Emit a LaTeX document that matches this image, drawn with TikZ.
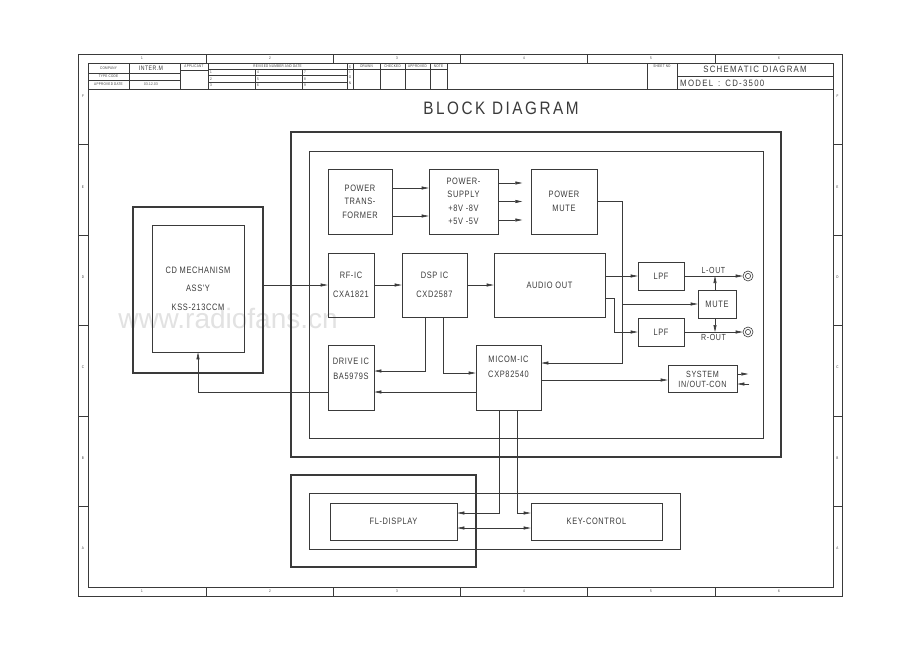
\documentclass[tikz,border=0pt]{standalone}
\usepackage{fontspec}
\setmainfont{Liberation Sans}
\newfontfamily\cadfont{Liberation Sans}[FakeStretch=0.8,LetterSpace=7]
\newfontfamily\cadwide{Liberation Sans}[FakeStretch=0.85,LetterSpace=14]
\usetikzlibrary{arrows.meta,positioning}
\definecolor{ink}{HTML}{3A3A3A}
\definecolor{wmark}{HTML}{E2E2E2}

\begin{document}
\begin{tikzpicture}[x=1pt, y=-1pt,
  font=\cadfont\fontsize{9.3}{13.5}\selectfont, text=ink,
  blk/.style={draw=ink, line width=0.6pt, align=center, inner sep=1pt},
  frm/.style={draw=ink, line width=1.4pt},
  thin/.style={draw=ink, line width=0.6pt},
  arr/.style={-{Triangle[length=7pt,width=3pt]}, draw=ink, line width=0.6pt},
  arrb/.style={{Triangle[length=7pt,width=3pt]}-{Triangle[length=7pt,width=3pt]},
               draw=ink, line width=0.6pt},
  jack/.style={circle, draw=ink, line width=0.6pt, minimum size=10pt, inner sep=0pt,
               path picture={\draw[ink, line width=0.6pt]
                 (path picture bounding box.center) circle (2.6pt);}},
  lbl/.style={font=\cadfont\fontsize{8.8}{9}\selectfont, inner sep=2pt},
  tb/.style={font=\cadfont\fontsize{3.8}{4}\selectfont, inner sep=0pt}
]
\useasboundingbox (0,0) rectangle (920,651);
\fill[white] (0,0) rectangle (920,651);
\node[text=wmark, font=\fontsize{28}{28}\selectfont] (wm) at (228,318) {www.radiofans.cn};

% sheet frame
\draw[thin] (78,54) rectangle (842,596);
\draw[thin] (88,63) rectangle (833,587);
\foreach \x in {206,333,460,587,715} {
  \draw[thin] (\x,54) -- (\x,63);
  \draw[thin] (\x,587) -- (\x,596);
}
\foreach \n/\x in {1/142,2/270,3/397,4/524,5/651,6/779} {
  \node[tb] (coltop\n) at (\x,58.5) {\n};
  \node[tb] (colbot\n) at (\x,591.5) {\n};
}
\foreach \y in {144,235,325,416,506} {
  \draw[thin] (78,\y) -- (88,\y);
  \draw[thin] (833,\y) -- (842,\y);
}
\foreach \l/\y in {F/96,E/187,D/277,C/367,B/458,A/548} {
  \node[tb] (rowl\l) at (83,\y) {\l};
  \node[tb] (rowr\l) at (837.5,\y) {\l};
}

% title block
\draw[thin] (88,89) -- (833,89);
\foreach \x in {129,180,208,347,353,380,405,430,447,647,677}
  \draw[thin] (\x,63) -- (\x,89);
\draw[thin] (88,73) -- (180,73);
\draw[thin] (88,80) -- (180,80);
\draw[thin] (180,70) -- (208,70);
\draw[thin] (208,69) -- (447,69);
\draw[thin] (208,75.7) -- (347,75.7);
\draw[thin] (208,82.3) -- (347,82.3);
\draw[thin] (255,69) -- (255,89);
\draw[thin] (302,69) -- (302,89);
\draw[thin] (677,76) -- (833,76);
\node[tb] (company) at (108.5,68) {COMPANY};
\node[tb] (typecode) at (108.5,76.5) {TYPE CODE};
\node[tb] (appdate) at (108.5,84.5) {APPROVED DATE};
\node[tb, font=\cadfont\fontsize{6.5}{6.5}\selectfont] (maker) at (151,68) {INTER.M};
\node[tb] (datev) at (151,84.5) {03.12.03};
\node[tb] (applicant) at (194,66.5) {APPLICANT};
\node[tb] (revised) at (277.5,66) {REVISED NUMBER AND DATE};
\foreach \n/\x/\y in {1/210/72.3,2/210/79,3/210/85.6,4/257/72.3,5/257/79,6/257/85.6,
                      7/304/72.3,8/304/79,9/304/85.6}
  \node[tb, anchor=west] (rev\n) at (\x,\y) {\n};
\foreach \l/\y in {S/67,I/72,G/77,N/83}
  \node[tb] (sign\l) at (350,\y) {\l};
\node[tb] (drawn) at (366.5,66) {DRAWN};
\node[tb] (checked) at (392.5,66) {CHECKED};
\node[tb] (approved) at (417.5,66) {APPROVED};
\node[tb] (note) at (438.5,66) {NOTE};
\node[tb] (sheetno) at (662,66) {SHEET NO};
\node[font=\cadwide\fontsize{9.2}{9}\selectfont] (schem) at (755,69.5) {SCHEMATIC DIAGRAM};
\node[font=\cadwide\fontsize{9.2}{9}\selectfont, anchor=west, inner sep=0pt]
  (model) at (680,83) {MODEL \,:\, CD-3500};

\node[font=\cadwide\fontsize{18}{18}\selectfont] (title) at (501,108) {BLOCK DIAGRAM};

% frames
\draw[frm] (291,132) rectangle (781,457);
\draw[thin] (309,151) rectangle (763,438);
\draw[frm] (291,475) rectangle (476,567);
\draw[thin] (309,493) rectangle (680,549);

% blocks
\node[frm, minimum width=130, minimum height=166] (cdout) at (198,290) {};
\node[blk, minimum width=92, minimum height=127] (cdin) at (198,288.5)
  {CD MECHANISM\\[5pt]ASS'Y\\[5pt]KSS-213CCM};
\node[blk, minimum width=64, minimum height=65] (trans) at (360,201.5)
  {POWER\\TRANS-\\FORMER};
\node[blk, minimum width=69, minimum height=65] (supply) at (463.5,201.5)
  {POWER-\\SUPPLY\\+8V -8V\\+5V -5V};
\node[blk, minimum width=66, minimum height=65] (pmute) at (564,201.5)
  {POWER\\MUTE};
\node[blk, minimum width=46, minimum height=64] (rfic) at (351,285)
  {RF-IC\\[5pt]CXA1821};
\node[blk, minimum width=65, minimum height=64] (dsp) at (434.5,285)
  {DSP IC\\[5pt]CXD2587};
\node[blk, minimum width=111, minimum height=64] (audio) at (549.5,285)
  {AUDIO OUT};
\node[blk, minimum width=46, minimum height=65] (drive) at (351,377.5)
  {DRIVE IC\\[1pt]BA5979S\\[4pt]\mbox{}};
\node[blk, minimum width=65, minimum height=65] (micom) at (508.5,377.5)
  {MICOM-IC\\[1pt]CXP82540\\[8pt]\mbox{}};
\node[blk, minimum width=46, minimum height=28] (lpfl) at (661,276) {LPF};
\node[blk, minimum width=46, minimum height=28] (lpfr) at (661,332) {LPF};
\node[blk, minimum width=38, minimum height=28] (mute) at (717,304) {MUTE};
\node[blk, minimum width=69, minimum height=27, font=\cadfont\fontsize{9}{10}\selectfont]
  (sys) at (702.5,379) {SYSTEM\\IN/OUT-CON};
\node[jack] (jackl) at (748,276) {};
\node[jack] (jackr) at (748,332) {};
\node[blk, minimum width=127, minimum height=37] (fl) at (393.5,521.5) {FL-DISPLAY};
\node[blk, minimum width=131, minimum height=37] (key) at (596.5,521.5) {KEY-CONTROL};

% connections
\coordinate (mutebus) at (622,363);
\coordinate (rbend) at (614,298);
\draw[arr] (rfic.west -| cdout.east) -- (rfic.west);
\draw[arr] (rfic) -- (dsp);
\draw[arr] (dsp) -- (audio);
\draw[arr] ([yshift=13.5pt]trans.east) -- ([yshift=13.5pt]supply.west);
\draw[arr] ([yshift=-14.5pt]trans.east) -- ([yshift=-14.5pt]supply.west);
\foreach \dy in {18.5,0,-18.5}
  \draw[arr] ([yshift=\dy pt]supply.east) -- ++(24,0);
\draw[arr] (pmute.east) -| (mutebus) -- (mutebus -| micom.east);
\draw[arr] (mutebus |- mute.west) -- (mute.west);
\draw[arr] (audio.east |- lpfl.west) -- (lpfl.west);
\draw[arr] (rbend -| audio.east) -- (rbend) |- (lpfr.west);
\draw[arr] (lpfl.east) -- node[above, lbl] {L-OUT} (jackl.west);
\draw[arr] (lpfr.east) -- node[below, lbl] {R-OUT} (jackr.west);
\draw[arr] ([xshift=-2pt]mute.north) -- ([xshift=-2pt]mute.north |- lpfl.east);
\draw[arr] ([xshift=-2pt]mute.south) -- ([xshift=-2pt]mute.south |- lpfr.east);
\draw[arr] ([yshift=-1pt]sys.west -| micom.east) -- ([yshift=-1pt]sys.west);
\draw[arr] ([yshift=5pt]sys.east) -- ++(11,0);
\draw[arr] ([yshift=-5pt,xshift=12pt]sys.east) -- ([yshift=-5pt]sys.east);
\draw[arr] ([xshift=-9.5pt]dsp.south) |- ([yshift=6.5pt]drive.east);
\draw[arr] ([xshift=8.5pt]dsp.south) |- ([yshift=4.5pt]micom.west);
\draw[arr] ([yshift=-14.5pt]micom.west) -- ([yshift=-14.5pt]drive.east);
\draw[arr] ([yshift=-14.5pt]drive.west) -| (cdin.south);
\draw[arr] ([xshift=-9.5pt]micom.south) |- ([yshift=8.5pt]fl.east);
\draw[arr] ([xshift=8.5pt]micom.south) |- ([yshift=8.5pt]key.west);
\draw[arrb] ([yshift=-6.5pt]fl.east) -- ([yshift=-6.5pt]key.west);
\end{tikzpicture}
\end{document}
